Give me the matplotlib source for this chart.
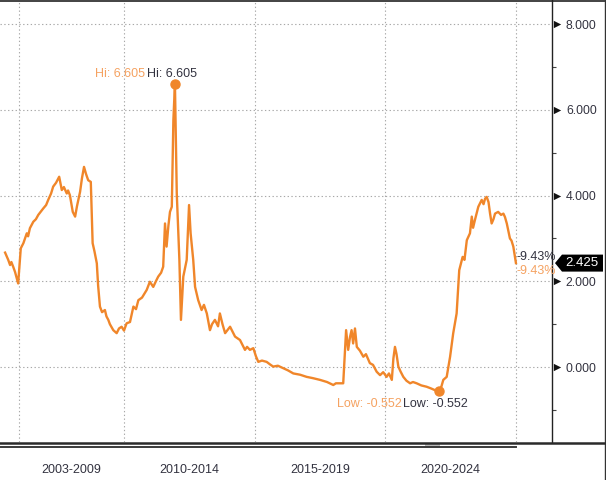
import matplotlib
matplotlib.use("Agg")
import matplotlib.pyplot as plt
from matplotlib.patches import Polygon, Rectangle
from matplotlib.lines import Line2D
import numpy as np

# ---- data (decimal years, yield %) ----
years = [2005.45, 2005.57, 2005.64, 2005.69, 2005.76, 2005.83, 2005.95, 2006.05, 2006.15, 2006.28,
         2006.33, 2006.40, 2006.53, 2006.63, 2006.72, 2006.91, 2007.02, 2007.10, 2007.21, 2007.29,
         2007.40, 2007.52, 2007.62, 2007.70, 2007.81, 2007.86, 2007.93, 2008.04, 2008.13, 2008.20,
         2008.32, 2008.39, 2008.47, 2008.55, 2008.63, 2008.73, 2008.80, 2008.87, 2008.96, 2009.01,
         2009.08, 2009.16, 2009.27, 2009.33, 2009.40, 2009.46, 2009.59, 2009.72, 2009.81, 2009.91,
         2010.00, 2010.10, 2010.23, 2010.36, 2010.46, 2010.55, 2010.69, 2010.87, 2010.99, 2011.12,
         2011.22, 2011.31, 2011.42, 2011.50, 2011.57, 2011.63, 2011.70, 2011.76, 2011.83, 2011.89,
         2011.95, 2012.02, 2012.12, 2012.18, 2012.27, 2012.40, 2012.49, 2012.55, 2012.65, 2012.72,
         2012.84, 2012.97, 2013.06, 2013.17, 2013.29, 2013.37, 2013.48, 2013.60, 2013.67, 2013.77,
         2013.87, 2014.06, 2014.25, 2014.44, 2014.63, 2014.71, 2014.82, 2014.95, 2015.05, 2015.14,
         2015.28, 2015.46, 2015.59, 2015.71, 2015.89, 2016.10, 2016.28, 2016.48, 2016.74, 2016.99,
         2017.23, 2017.50, 2017.77, 2018.01, 2018.11, 2018.27, 2018.39, 2018.50, 2018.58, 2018.65,
         2018.71, 2018.77, 2018.84, 2018.91, 2019.03, 2019.16, 2019.26, 2019.41, 2019.53, 2019.67,
         2019.80, 2019.92, 2020.05, 2020.14, 2020.25, 2020.31, 2020.37, 2020.43, 2020.50, 2020.58,
         2020.69, 2020.81, 2020.95, 2021.06, 2021.20, 2021.38, 2021.58, 2021.75, 2021.90, 2022.07,
         2022.15, 2022.22, 2022.35, 2022.48, 2022.60, 2022.73, 2022.83, 2022.96, 2023.03, 2023.12,
         2023.19, 2023.24, 2023.31, 2023.36, 2023.43, 2023.56, 2023.69, 2023.76, 2023.82, 2023.88,
         2023.95, 2024.01, 2024.07, 2024.14, 2024.20, 2024.32, 2024.43, 2024.52, 2024.58, 2024.65,
         2024.72, 2024.77, 2024.83, 2024.90, 2024.94, 2024.96, 2025.00]
values = [2.67, 2.50, 2.38, 2.45, 2.34, 2.22, 1.95, 2.77, 2.89, 3.12,
          3.05, 3.24, 3.39, 3.45, 3.55, 3.70, 3.78, 3.90, 4.05, 4.21,
          4.30, 4.44, 4.13, 4.20, 4.05, 4.12, 4.01, 3.62, 3.51, 3.75,
          4.09, 4.40, 4.67, 4.50, 4.36, 4.32, 2.89, 2.70, 2.42, 1.90,
          1.41, 1.28, 1.33, 1.18, 1.10, 1.00, 0.86, 0.79, 0.90, 0.94,
          0.85, 1.02, 1.05, 1.41, 1.35, 1.56, 1.62, 1.80, 1.99, 1.87,
          2.00, 2.11, 2.20, 2.34, 3.35, 2.81, 3.30, 3.62, 3.74, 5.76,
          6.605, 4.05, 2.50, 1.10, 2.11, 2.50, 3.78, 3.12, 2.50, 1.87,
          1.56, 1.33, 1.45, 1.25, 0.86, 1.00, 1.10, 0.95, 1.25, 1.00,
          0.79, 0.94, 0.71, 0.63, 0.40, 0.47, 0.40, 0.44, 0.25, 0.12,
          0.15, 0.12, 0.06, 0.01, 0.03, -0.03, -0.08, -0.15, -0.18, -0.23,
          -0.26, -0.30, -0.35, -0.42, -0.38, -0.38, -0.38, 0.86, 0.40, 0.70,
          0.86, 0.55, 0.90, 0.47, 0.38, 0.24, 0.30, 0.09, 0.05, -0.11,
          -0.19, -0.12, -0.23, -0.15, -0.30, 0.20, 0.47, 0.30, 0.01, -0.10,
          -0.23, -0.32, -0.38, -0.35, -0.38, -0.43, -0.46, -0.50, -0.54, -0.552,
          -0.45, -0.30, -0.23, 0.24, 0.79, 1.25, 2.26, 2.57, 2.50, 2.96,
          3.05, 3.12, 3.51, 3.25, 3.43, 3.74, 3.90, 3.80, 3.93, 3.97,
          3.85, 3.58, 3.35, 3.45, 3.58, 3.62, 3.55, 3.58, 3.50, 3.35,
          3.15, 3.00, 2.95, 2.81, 2.65, 2.57, 2.425]

period_labels = ["2003-2009", "2010-2014", "2015-2019", "2020-2024"]
period_label_pos = [2008.0, 2012.5, 2017.5, 2022.5]
period_bounds = [2006, 2010, 2015, 2020, 2025]
y_major = [0, 2, 4, 6, 8]
y_minor = [-1, 1, 3, 5, 7]
hi_val = 6.605
low_val = -0.552
last_val = 2.425
change_text = "-9.43%"

LINE = "#F0862A"
LIGHT = "#F5A261"
DARK = "#333340"
FONT = ["Liberation Sans", "DejaVu Sans"]

W, H = 606, 480
fig = plt.figure(figsize=(W / 100, H / 100), dpi=100)
fig.patch.set_facecolor("white")
ax = fig.add_axes([0, (480 - 442) / 480, 552 / 606, 442 / 480])
ax.set_facecolor("white")

ax.plot(years, values, color=LINE, lw=1.7, solid_joinstyle="round", zorder=3)

ax.set_xlim(2005.255, 2026.38)
ax.set_ylim(-1.75, 8.565)

# grid
for b in period_bounds:
    ax.axvline(b, color="#a8a8a8", lw=0.8, ls=(0, (1.2, 2.2)), zorder=1)
for yv in y_major:
    ax.axhline(yv, color="#a8a8a8", lw=0.8, ls=(0, (1.2, 2.2)), zorder=1)

# spines
for s in ["left", "top", "bottom"]:
    ax.spines[s].set_visible(False)
ax.spines["right"].set_color("#222222")
ax.spines["right"].set_linewidth(1.0)

# y axis on right
ax.yaxis.tick_right()
ax.set_yticks(y_major)
ax.set_yticklabels([f"{v:.3f}" for v in y_major], family=FONT, fontsize=8.8, color=DARK)
ax.set_yticks(y_minor, minor=True)
ax.tick_params(axis="y", which="major", length=0, pad=10)
ax.tick_params(axis="y", which="minor", length=3, width=0.8, color="#444444", direction="out")
ytr = ax.get_yaxis_transform()
ax.scatter([1.0 + 5 / 552] * len(y_major), y_major, marker=">", s=28, color="#111111",
           transform=ytr, clip_on=False, zorder=5, linewidths=0)

# x axis period labels
ax.set_xticks(period_label_pos)
ax.set_xticklabels(period_labels, family=FONT, fontsize=9, color=DARK)
ax.tick_params(axis="x", which="major", length=0, pad=16)

# hi / low markers and annotations
i_hi = values.index(hi_val)
i_lo = values.index(low_val)
ax.plot([years[i_hi]], [hi_val], "o", color=LINE, ms=6.5, zorder=4)
ax.plot([years[i_lo]], [low_val], "o", color=LINE, ms=6.5, zorder=4)
ax.annotate(f"Hi: {hi_val:.3f}", (years[i_hi], hi_val), xytext=(-30, 10), textcoords="offset pixels",
            ha="right", va="center", color=LIGHT, fontsize=9, family=FONT)
ax.annotate(f"Hi: {hi_val:.3f}", (years[i_hi], hi_val), xytext=(-28, 10), textcoords="offset pixels",
            ha="left", va="center", color=DARK, fontsize=9, family=FONT)
ax.annotate(f"Low: {low_val:.3f}", (years[i_lo], low_val), xytext=(-38, -13), textcoords="offset pixels",
            ha="right", va="center", color=LIGHT, fontsize=9, family=FONT)
ax.annotate(f"Low: {low_val:.3f}", (years[i_lo], low_val), xytext=(-36, -13), textcoords="offset pixels",
            ha="left", va="center", color=DARK, fontsize=9, family=FONT)

# change labels at last point
ax.annotate(change_text, (years[-1], values[-1]), xytext=(1, 6), textcoords="offset pixels",
            ha="left", va="center", color=DARK, fontsize=9, family=FONT, annotation_clip=False)
ax.annotate(change_text, (years[-1], values[-1]), xytext=(1, -8), textcoords="offset pixels",
            ha="left", va="center", color=LIGHT, fontsize=9, family=FONT, annotation_clip=False)

# last value box
hh = 8.5 / 42.85
x0, x1, x2 = 1.0 + 3 / 552, 1.0 + 10 / 552, 1.0 + 51 / 552
poly = Polygon([[x0, last_val], [x1, last_val + hh], [x2, last_val + hh],
                [x2, last_val - hh], [x1, last_val - hh]], closed=True,
               transform=ytr, facecolor="#000000", edgecolor="none", clip_on=False, zorder=6)
ax.add_patch(poly)
ax.text(1.0 + 30 / 552, last_val, f"{last_val:.3f}", transform=ytr, ha="center", va="center",
        color="white", fontsize=9.5, family=FONT, zorder=7, clip_on=False)

# frame lines (figure level)
fig.add_artist(Line2D([0, 1], [1 - 0.6 / H, 1 - 0.6 / H], transform=fig.transFigure, color="#222222", lw=1.2))
fig.add_artist(Line2D([1 - 1.5 / W, 1 - 1.5 / W], [0, 1], transform=fig.transFigure, color="#333333", lw=1.0))
fig.add_artist(Line2D([0, 1], [(480 - 443) / H, (480 - 443) / H], transform=fig.transFigure, color="#2a2a2a", lw=1.8))
fig.add_artist(Line2D([0, 516 / W], [(480 - 446.5) / H, (480 - 446.5) / H], transform=fig.transFigure, color="#3a3a3a", lw=1.4))
fig.add_artist(Rectangle((425 / W, (480 - 447) / H), 15 / W, 4 / H, transform=fig.transFigure,
                         facecolor="#bbbbbb", edgecolor="none"))

fig.savefig("out.png", dpi=100, facecolor="white")
